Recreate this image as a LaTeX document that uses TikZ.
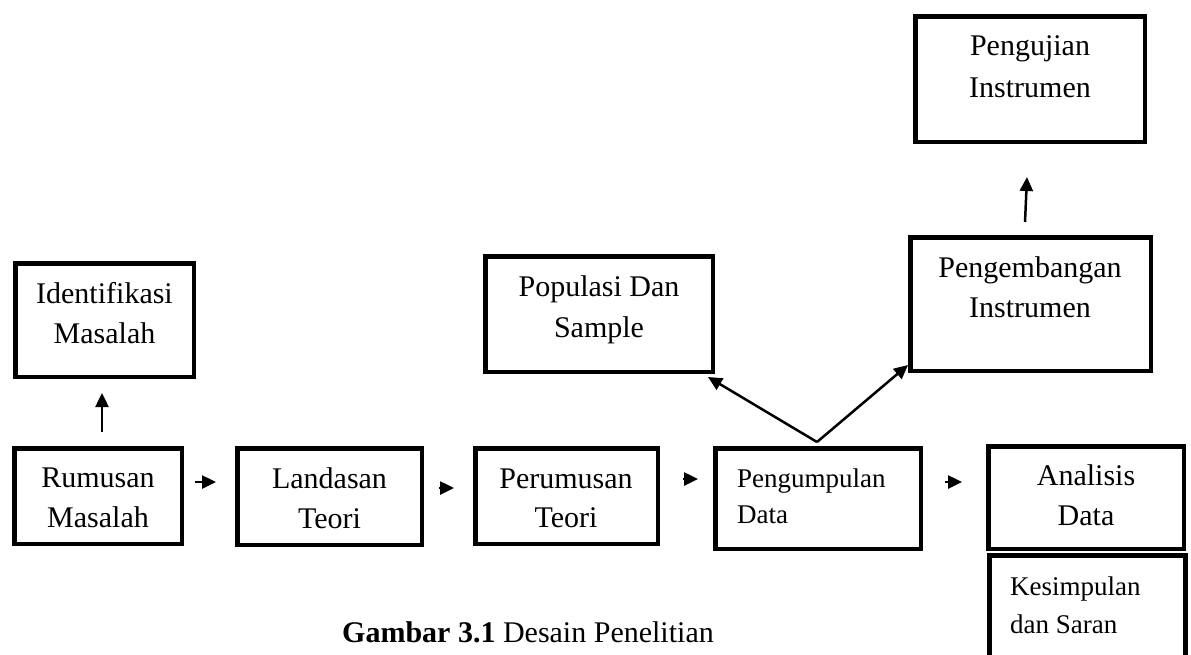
\documentclass[tikz,border=0pt]{standalone}
\usepackage{fontspec}
\setmainfont{Liberation Serif}
\usetikzlibrary{arrows.meta}
\begin{document}
\begin{tikzpicture}[x=1pt,y=-1pt,
  box/.style={draw,line width=4.5pt,inner sep=0pt},
  txt/.style={font=\fontsize{30}{36}\selectfont,anchor=base,inner sep=0pt},
  stxt/.style={font=\fontsize{27}{32}\selectfont,anchor=base west,inner sep=0pt},
  arr/.style={line width=2.5pt,-{Triangle[length=14pt,width=13pt]}}]
\clip (0,0) rectangle (1191,654);
\fill[white] (0,0) rectangle (1191,654);
% boxes
\node[box,minimum width=178.5pt,minimum height=113.5pt] (idm) at (104.5,320) {};
\node[box,minimum width=167.5pt,minimum height=95.5pt] (rum) at (98,496) {};
\node[box,minimum width=184.5pt,minimum height=96.5pt] (lan) at (329.5,496.5) {};
\node[box,minimum width=182.5pt,minimum height=95.5pt] (per) at (566.5,496) {};
\node[box,minimum width=205.5pt,minimum height=100.5pt] (pen) at (818,498.5) {};
\node[box,minimum width=227.5pt,minimum height=115.5pt] (pop) at (599,314) {};
\node[box,minimum width=240.5pt,minimum height=133.5pt] (pgb) at (1030.5,304) {};
\node[box,minimum width=229.5pt,minimum height=125.5pt] (pgj) at (1030,79) {};
\node[box,minimum width=195.5pt,minimum height=102.5pt] (ana) at (1086,497.5) {};
\node[box,line width=5pt,minimum width=196pt,minimum height=105pt] (kes) at (1087.5,608) {};
% texts
\node[txt] (idm1) at (104.5,303) {Identifikasi};
\node[txt] (idm2) at (104.5,343) {Masalah};
\node[txt] (rum1) at (98,487) {Rumusan};
\node[txt] (rum2) at (98,527) {Masalah};
\node[txt] (lan1) at (329.5,488) {Landasan};
\node[txt] (lan2) at (329.5,528) {Teori};
\node[txt] (per1) at (566,488) {Perumusan};
\node[txt] (per2) at (566,527) {Teori};
\node[stxt] (pen1) at (737,487) {Pengumpulan};
\node[stxt] (pen2) at (737,523) {Data};
\node[txt] (pop1) at (599,296) {Populasi Dan};
\node[txt] (pop2) at (599,337) {Sample};
\node[txt] (pgj1) at (1030,55) {Pengujian};
\node[txt] (pgj2) at (1030,97) {Instrumen};
\node[txt] (pgb1) at (1030,277) {Pengembangan};
\node[txt] (pgb2) at (1030,317) {Instrumen};
\node[txt] (ana1) at (1086,485) {Analisis};
\node[txt] (ana2) at (1086,525) {Data};
\node[stxt] (kes1) at (1010,595) {Kesimpulan};
\node[stxt] (kes2) at (1010,633) {dan Saran};
\node[font=\fontsize{30}{36}\selectfont,anchor=base west,inner sep=0pt] (cap) at (342,642) {\textbf{Gambar 3.1} Desain Penelitian};
% connector end points
\coordinate (a1s) at (102,432); \coordinate (a1e) at (102,393);
\coordinate (a2s) at (195,482); \coordinate (a2e) at (216,482);
\coordinate (a3s) at (439,488); \coordinate (a3e) at (454,488);
\coordinate (a4s) at (683,479); \coordinate (a4e) at (698,479);
\coordinate (a5s) at (945,482); \coordinate (a5e) at (962,482);
\coordinate (a6s) at (817,442); \coordinate (a6e) at (708,377);
\coordinate (a7e) at (908,365);
\coordinate (a8s) at (1025,222); \coordinate (a8e) at (1027,177);
% connectors
\draw[arr] (a1s) -- (a1e);
\draw[arr] (a2s) -- (a2e);
\draw[arr] (a3s) -- (a3e);
\draw[arr] (a4s) -- (a4e);
\draw[arr] (a5s) -- (a5e);
\draw[arr] (a6s) -- (a6e);
\draw[arr] (a6s) -- (a7e);
\draw[arr] (a8s) -- (a8e);
\end{tikzpicture}
\end{document}
